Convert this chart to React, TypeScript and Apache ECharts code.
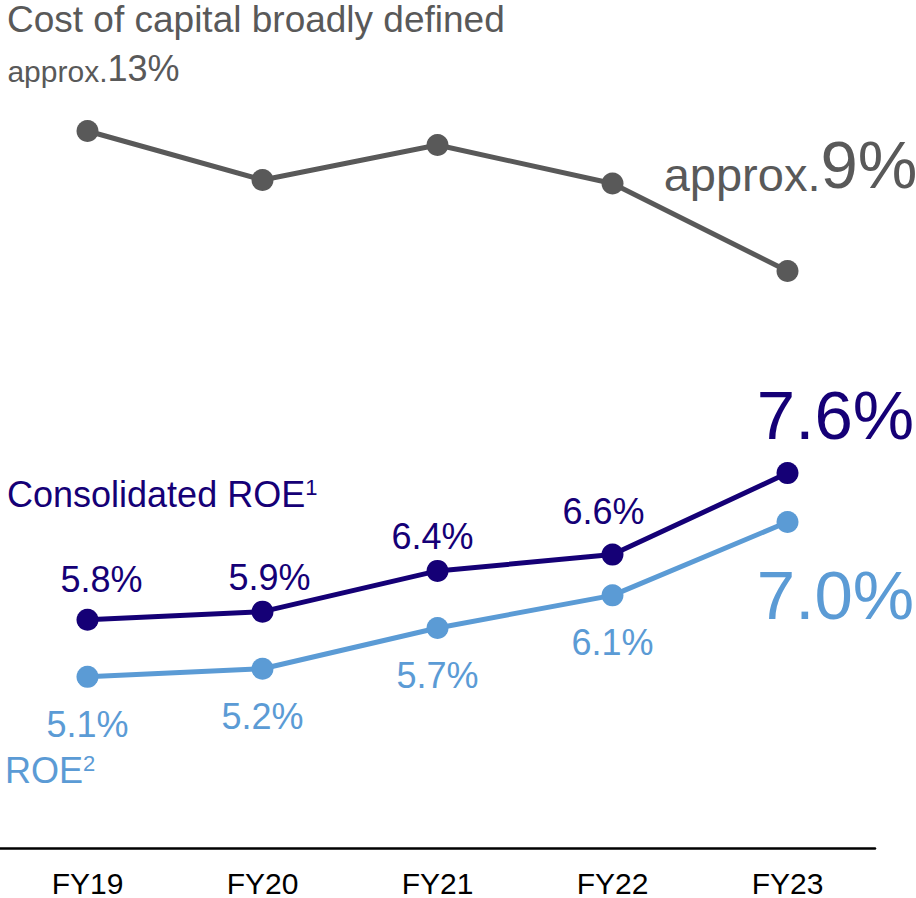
import React, { useEffect, useRef } from "react";
import * as echarts from "echarts";

const categories = ["FY19", "FY20", "FY21", "FY22", "FY23"];
const costOfCapital = [13, 11.6, 12.6, 11.5, 9];
const consolidatedROE = [5.8, 5.9, 6.4, 6.6, 7.6];
const roe = [5.1, 5.2, 5.7, 6.1, 7.0];

const GRAY = "#595959";
const NAVY = "#150076";
const BLUE = "#5b9bd5";
const FONT = "'Liberation Sans', Arial, sans-serif";

// label offsets (style only)
const navyLabelOffsets = [
  [14, -11.5],
  [7, -5.5],
  [-5, -5.5],
  [-9, -14.5],
];

export default function App() {
  const ref = useRef<HTMLDivElement>(null);
  useEffect(() => {
    if (!ref.current) return;
    const chart = echarts.init(ref.current, undefined, { renderer: "svg" });
    const last = categories.length - 1;

    const grayData = costOfCapital.map((v, i) => {
      if (i === 0) {
        return {
          value: v,
          label: {
            show: true,
            position: "top",
            distance: 0,
            offset: [6, -34],
            formatter: "{a|approx.}{b|" + v + "%}",
            rich: {
              a: { fontSize: 30, lineHeight: 41, verticalAlign: "bottom", color: GRAY, fontFamily: FONT },
              b: { fontSize: 36, lineHeight: 45, verticalAlign: "bottom", color: GRAY, fontFamily: FONT },
            },
          },
        };
      }
      if (i === last) {
        return {
          value: v,
          label: {
            show: true,
            position: "top",
            distance: 0,
            offset: [3, -62],
            formatter: "{a|approx.}{b|" + v + "%}",
            rich: {
              a: { fontSize: 47, lineHeight: 53, verticalAlign: "bottom", color: GRAY, fontFamily: FONT },
              b: { fontSize: 67, lineHeight: 66, verticalAlign: "bottom", color: GRAY, fontFamily: FONT },
            },
          },
        };
      }
      return { value: v };
    });

    const navyData = consolidatedROE.map((v, i) => {
      if (i === last) {
        return {
          value: v,
          label: {
            show: true,
            position: "top",
            distance: 0,
            offset: [48, -12],
            fontSize: 69,
            lineHeight: 69,
          },
        };
      }
      return {
        value: v,
        label: { show: true, offset: navyLabelOffsets[i] },
      };
    });

    const blueData = roe.map((v, i) => {
      if (i === last) {
        return {
          value: v,
          label: {
            show: true,
            position: "bottom",
            distance: 0,
            offset: [48, 27.5],
            fontSize: 69,
            lineHeight: 69,
          },
        };
      }
      return { value: v };
    });

    chart.setOption({
      animation: false,
      backgroundColor: "#ffffff",
      grid: [
        { left: 0, right: 41, top: 33, bottom: 42 },
        { left: 0, right: 41, top: 131, bottom: 627 },
      ],
      xAxis: [
        {
          type: "category",
          gridIndex: 0,
          data: categories,
          boundaryGap: true,
          axisLine: { show: true, lineStyle: { color: "#000000", width: 2.5 } },
          axisTick: { show: false },
          axisLabel: {
            color: "#000000",
            fontSize: 30,
            lineHeight: 26,
            fontFamily: FONT,
            margin: 22,
          },
        },
        {
          type: "category",
          gridIndex: 1,
          data: categories,
          boundaryGap: true,
          show: false,
        },
      ],
      yAxis: [
        { type: "value", gridIndex: 0, min: 3, max: 13, show: false, splitLine: { show: false } },
        { type: "value", gridIndex: 1, min: 9, max: 13, show: false, splitLine: { show: false } },
      ],
      series: [
        {
          name: "Cost of capital broadly defined",
          type: "line",
          xAxisIndex: 1,
          yAxisIndex: 1,
          data: grayData,
          symbol: "circle",
          symbolSize: 22,
          itemStyle: { color: GRAY },
          lineStyle: { color: GRAY, width: 5 },
          label: { show: false },
        },
        {
          name: "Consolidated ROE",
          type: "line",
          data: navyData,
          symbol: "circle",
          symbolSize: 22,
          itemStyle: { color: NAVY },
          lineStyle: { color: NAVY, width: 5 },
          label: {
            show: true,
            position: "top",
            distance: 0,
            color: NAVY,
            fontSize: 36,
            lineHeight: 36,
            fontFamily: FONT,
            formatter: (p: any) => p.value.toFixed(1) + "%",
          },
        },
        {
          name: "ROE",
          type: "line",
          data: blueData,
          symbol: "circle",
          symbolSize: 22,
          itemStyle: { color: BLUE },
          lineStyle: { color: BLUE, width: 5 },
          label: {
            show: true,
            position: "bottom",
            distance: 0,
            offset: [0, 18.5],
            color: BLUE,
            fontSize: 36,
            lineHeight: 36,
            fontFamily: FONT,
            formatter: (p: any) => p.value.toFixed(1) + "%",
          },
        },
      ],
      graphic: [
        {
          type: "text",
          left: 7,
          top: 1,
          style: {
            text: "Cost of capital broadly defined",
            fill: GRAY,
            font: "37px " + FONT,
            lineHeight: 37,
          },
        },
        {
          type: "text",
          left: 7,
          top: 476,
          style: {
            text: "{m|Consolidated ROE}{s|1}",
            rich: {
              m: { fontSize: 36, lineHeight: 36, fontFamily: FONT, fill: NAVY, color: NAVY },
              s: { fontSize: 22, lineHeight: 22, verticalAlign: "top", fontFamily: FONT, fill: NAVY, color: NAVY },
            },
            fill: NAVY,
          },
        },
        {
          type: "text",
          left: 5,
          top: 752,
          style: {
            text: "{m|ROE}{s|2}",
            rich: {
              m: { fontSize: 36, lineHeight: 36, fontFamily: FONT, fill: BLUE, color: BLUE },
              s: { fontSize: 22, lineHeight: 22, verticalAlign: "top", fontFamily: FONT, fill: BLUE, color: BLUE },
            },
            fill: BLUE,
          },
        },
      ],
    });
    return () => chart.dispose();
  }, []);
  return (
    <div
      ref={ref}
      style={{ position: "fixed", left: 0, top: 0, width: 916, height: 898, background: "#fff" }}
    />
  );
}
